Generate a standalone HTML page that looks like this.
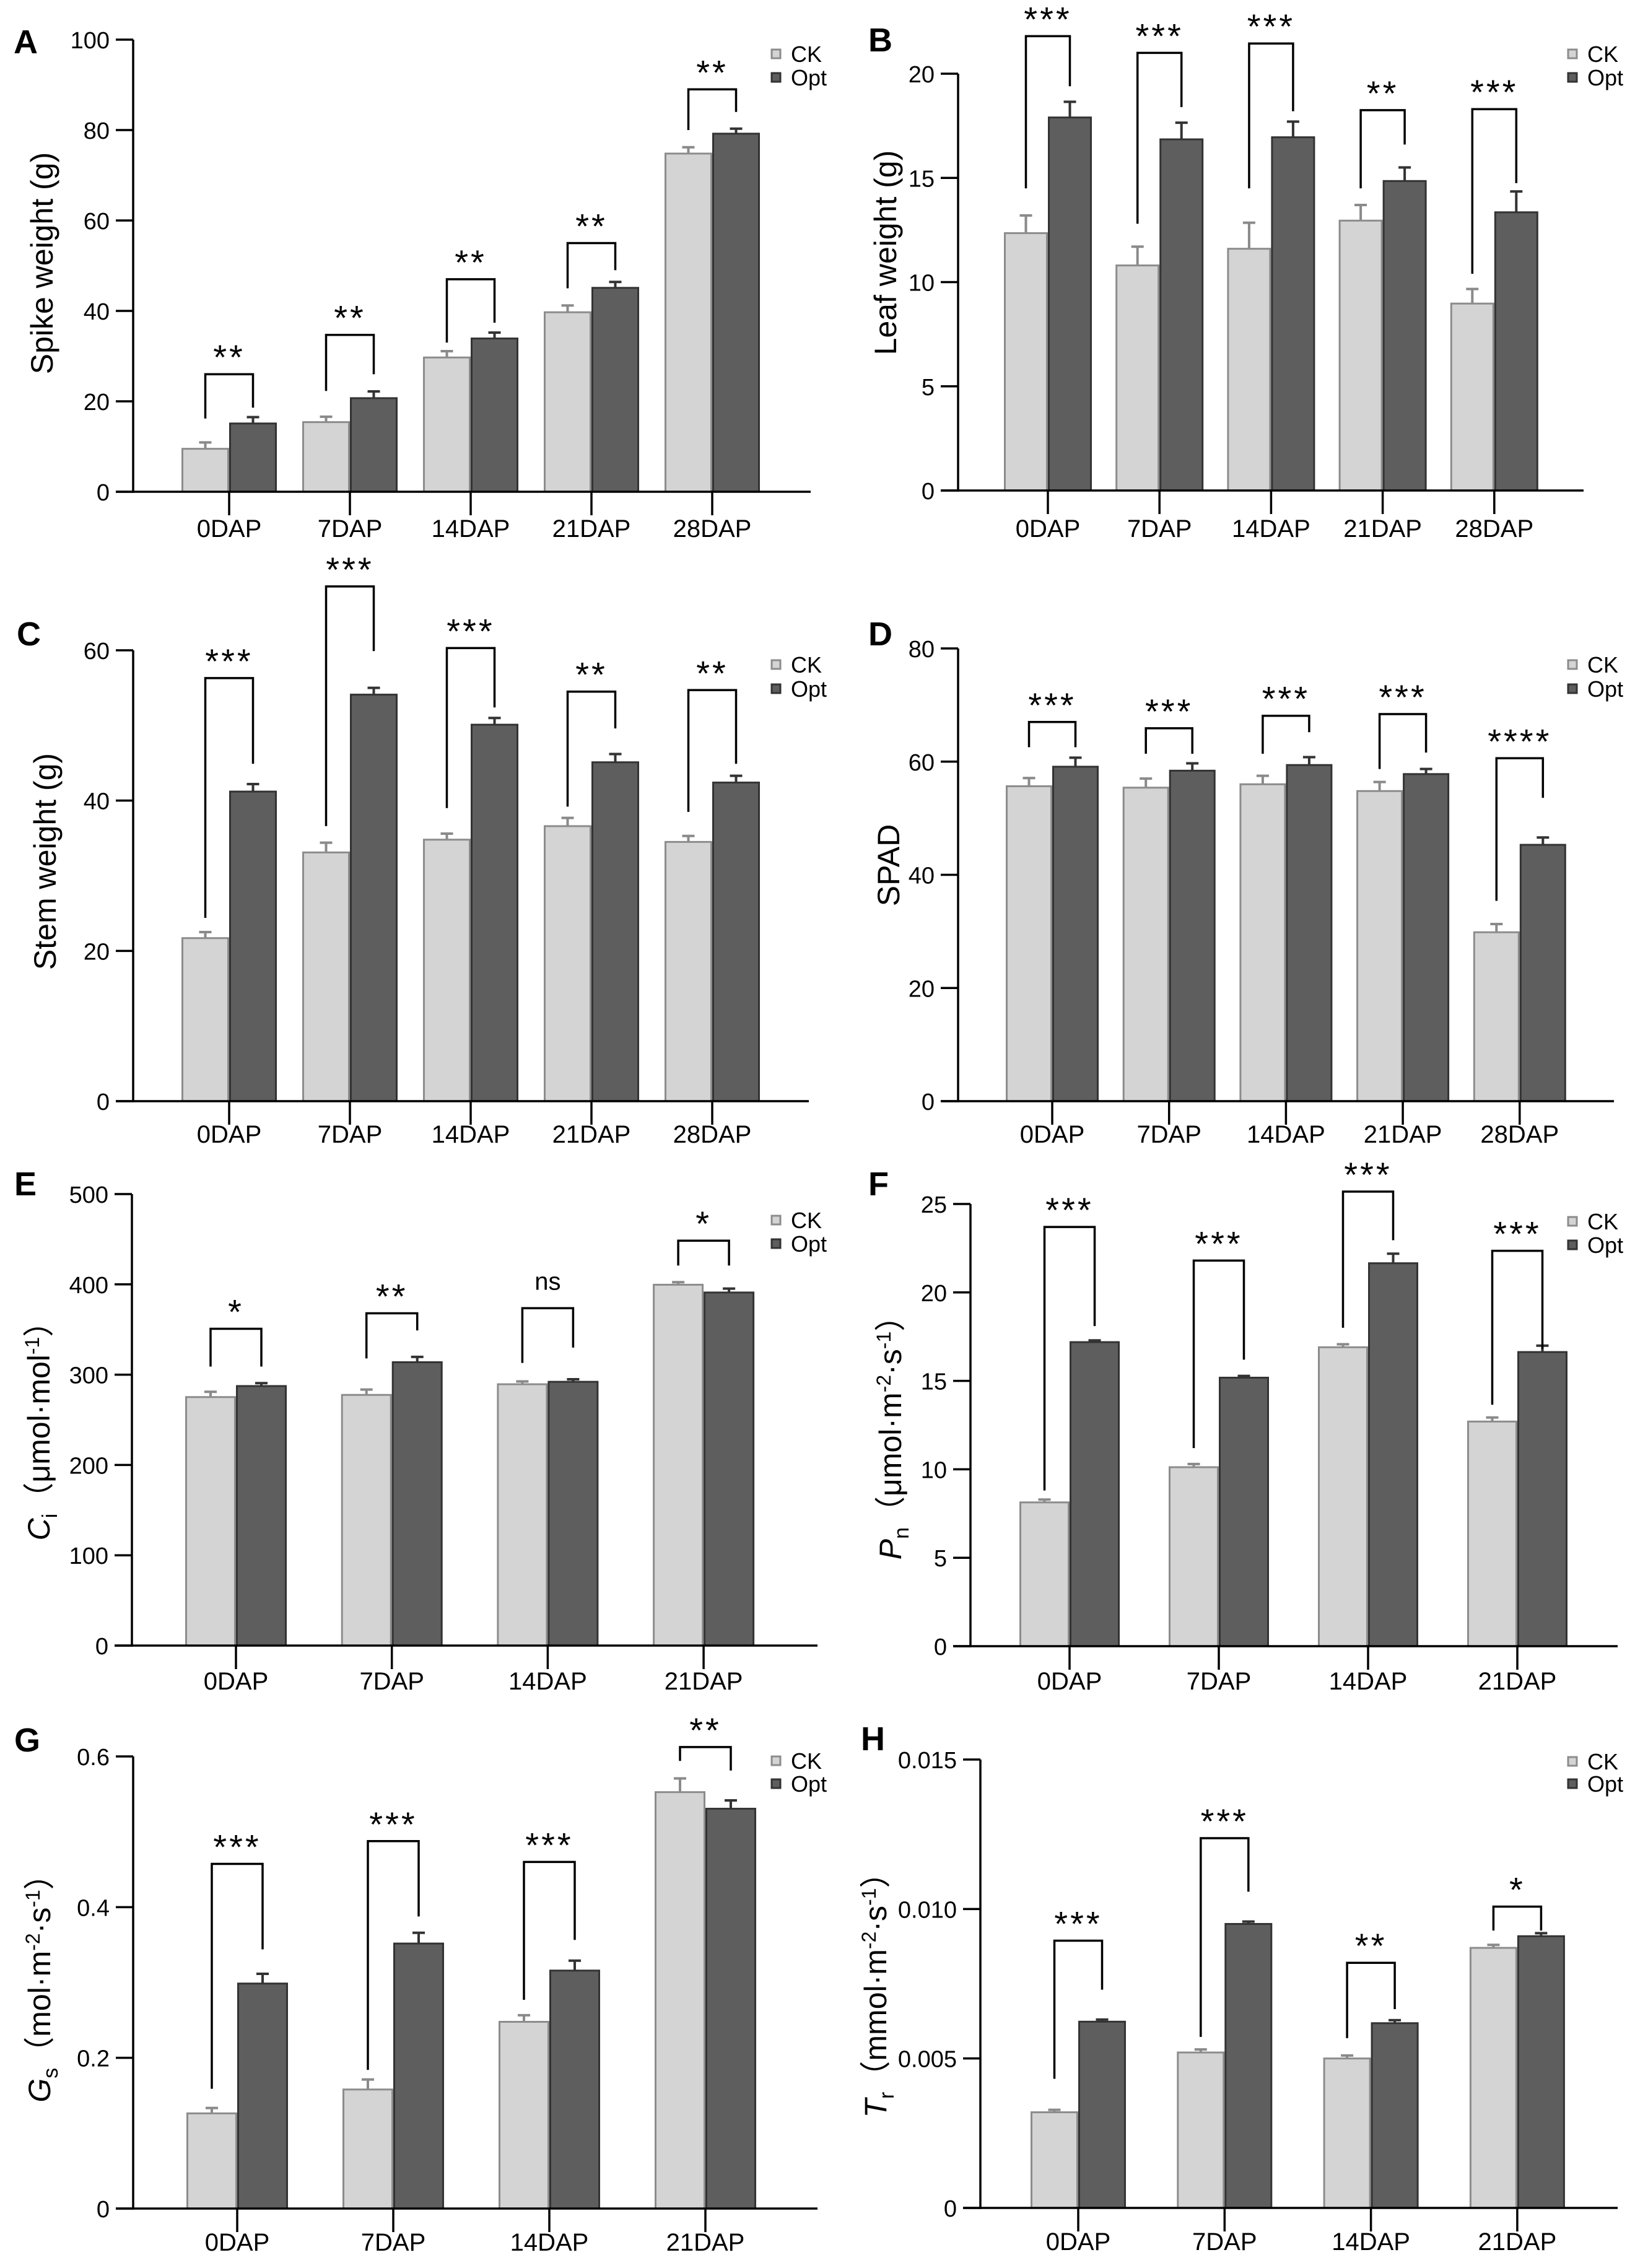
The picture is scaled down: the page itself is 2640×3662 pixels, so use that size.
<!DOCTYPE html>
<html><head><meta charset="utf-8"><style>
html,body{margin:0;padding:0;background:#fff;}
svg{display:block;font-family:"Liberation Sans",Arial,sans-serif;}
</style></head><body>
<svg id="fig" width="2640" height="3662" viewBox="0 0 2640 3662" xmlns="http://www.w3.org/2000/svg">
<rect width="2640" height="3662" fill="#fff"/>
</svg>
<script>
// ---- Data ----
const catsA = ["0DAP","7DAP","14DAP","21DAP","28DAP"];
const catsE = ["0DAP","7DAP","14DAP","21DAP"];

const A_ck = [9.5,15.4,29.7,39.7,74.8];
const A_ckErr = [1.4,1.2,1.4,1.5,1.4];
const A_opt = [15.1,20.7,33.9,45.1,79.2];
const A_optErr = [1.4,1.5,1.3,1.3,1.1];
const A_sig = ["**","**","**","**","**"];
const A_brTop = [26,34.7,47,55,89];
const A_brL = [16.2,22.3,33,45,80];
const A_brR = [18.6,26,37.4,49,84];
const A_ticks = [0,20,40,60,80,100];

const B_ck = [12.35,10.8,11.6,12.95,8.97];
const B_ckErr = [0.85,0.9,1.25,0.75,0.7];
const B_opt = [17.9,16.85,16.95,14.85,13.35];
const B_optErr = [0.75,0.8,0.75,0.65,1.0];
const B_sig = ["***","***","***","**","***"];
const B_brTop = [21.8,21.0,21.45,18.25,18.3];
const B_brL = [14.5,12.8,14.5,14.5,10.4];
const B_brR = [19.4,18.4,18.2,16.6,14.75];
const B_ticks = [0,5,10,15,20];

const C_ck = [21.7,33.1,34.8,36.6,34.5];
const C_ckErr = [0.8,1.3,0.8,1.1,0.8];
const C_opt = [41.2,54.1,50.1,45.1,42.4];
const C_optErr = [1.0,0.9,0.9,1.1,0.9];
const C_sig = ["***","***","***","**","**"];
const C_brTop = [56.3,68.5,60.3,54.5,54.7];
const C_brL = [24.4,36.6,39,39.2,38.5];
const C_brR = [44.9,59.9,52.4,49.6,44.9];
const C_ticks = [0,20,40,60];

const D_ck = [55.65,55.4,56.0,54.8,29.85];
const D_ckErr = [1.45,1.6,1.5,1.6,1.45];
const D_opt = [59.1,58.4,59.4,57.8,45.3];
const D_optErr = [1.6,1.3,1.4,0.9,1.3];
const D_sig = ["***","***","***","***","****"];
const D_brTop = [67,65.9,68.1,68.4,60.6];
const D_brL = [62.55,61.4,61.4,58.7,35.4];
const D_brR = [62.55,61.4,65.2,61.6,53.6];
const D_ticks = [0,20,40,60,80];

const E_ck = [275.2,277.6,289.4,399.6];
const E_ckErr = [5.8,5.9,3.1,2.8];
const E_opt = [287.4,313.8,292.1,391];
const E_optErr = [3.2,5.9,2.8,4.3];
const E_sig = ["*","**","ns","*"];
const E_brTop = [350.8,368,373.6,448.4];
const E_brL = [309,318,313,420.9];
const E_brR = [309,349,330,420.9];
const E_ticks = [0,100,200,300,400,500];

const F_ck = [8.13,10.12,16.9,12.7];
const F_ckErr = [0.16,0.18,0.17,0.23];
const F_opt = [17.19,15.18,21.65,16.63];
const F_optErr = [0.1,0.1,0.54,0.36];
const F_sig = ["***","***","***","***"];
const F_brTop = [23.7,21.8,25.7,22.35];
const F_brL = [8.8,11.2,18.0,13.65];
const F_brR = [18.1,16.2,22.95,16.8];
const F_ticks = [0,5,10,15,20,25];

const G_ck = [0.1263,0.158,0.2478,0.5526];
const G_ckErr = [0.0072,0.0133,0.0087,0.0182];
const G_opt = [0.2986,0.3517,0.3158,0.5306];
const G_optErr = [0.0129,0.0143,0.0132,0.011];
const G_sig = ["***","***","***","**"];
const G_brTop = [0.4574,0.4876,0.46,0.6124];
const G_brL = [0.1589,0.184,0.277,0.594];
const G_brR = [0.344,0.3876,0.3565,0.5813];
const G_ticks = [0,0.2,0.4,0.6];
const G_tickLabels = ["0","0.2","0.4","0.6"];

const H_ck = [0.0032,0.0052,0.0050,0.0087];
const H_ckErr = [0.00008,0.0001,0.0001,0.0001];
const H_opt = [0.00623,0.0095,0.00618,0.00909];
const H_optErr = [0.00007,0.00008,0.0001,0.0001];
const H_sig = ["***","***","**","*"];
const H_brTop = [0.00894,0.01237,0.0082,0.01008];
const H_brL = [0.00432,0.00572,0.00568,0.00928];
const H_brR = [0.0073,0.01058,0.00665,0.00928];
const H_ticks = [0,0.005,0.010,0.015];
const H_tickLabels = ["0","0.005","0.010","0.015"];

const NS = "http://www.w3.org/2000/svg";
const svg = document.getElementById('fig');
function mk(tag, attrs, parent){
  const e = document.createElementNS(NS, tag);
  for (const k in attrs) e.setAttribute(k, attrs[k]);
  (parent||svg).appendChild(e);
  return e;
}

function panel(P){
  const g = mk('g', {});
  
  
  const yScale = v => P.y0 - (v / P.max) * (P.y0 - P.yTop);
  const xScale = i => P.x0 + i * P.step;

  const L = mk('text', {x:P.lx, y:P.ly, 'font-size':54, 'font-weight':'bold', fill:'#000'}, g);
  L.textContent = P.id;
  
  

  P.cats.forEach((c, i) => {
    const cx = xScale(i);
    const w = P.bw;
    const ckY = yScale(P.ck[i]), opY = yScale(P.opt[i]);
    const eck = yScale(P.ck[i] + P.ckErr[i]);
    const e1 = mk('path', {d:`M${cx-w/2},${ckY} V${eck} M${cx-w/2-10},${eck} H${cx-w/2+10}`, stroke:'#8a8a8a', 'stroke-width':4, fill:'none'}, g);
    
    
    const eop = yScale(P.opt[i] + P.optErr[i]);
    const e2 = mk('path', {d:`M${cx+w/2},${opY} V${eop} M${cx+w/2-10},${eop} H${cx+w/2+10}`, stroke:'#333', 'stroke-width':4, fill:'none'}, g);
    
    
    const r1 = mk('rect', {x:cx-w+1.5, y:ckY, width:w-3, height:P.y0-ckY, fill:'#d4d4d4', stroke:'#8c8c8c', 'stroke-width':3}, g);
    
    
    const r2 = mk('rect', {x:cx+1.5, y:opY, width:w-3, height:P.y0-opY, fill:'#5e5e5e', stroke:'#333', 'stroke-width':3}, g);
    
    

    const bt = yScale(P.brTop[i]);
    const br = mk('path', {d:`M${cx-w/2},${yScale(P.brL[i])} V${bt} H${cx+w/2} V${yScale(P.brR[i])}`, stroke:'#000', 'stroke-width':3.5, fill:'none'}, g);
    
    
    const isNs = P.sig[i] === 'ns';
    const st = mk('text', {x:cx, y: isNs ? bt-30 : bt-8, 'text-anchor':'middle', 'font-size': isNs?40:56, 'letter-spacing': isNs?0:4, fill:'#000'}, g);
    st.textContent = P.sig[i];
    
    

    const tk = mk('line', {x1:cx, x2:cx, y1:P.y0, y2:P.y0+38, stroke:'#000', 'stroke-width':3.5}, g);
    
    
    const xl = mk('text', {x:cx, y:P.xly, 'text-anchor':'middle', 'font-size':40, fill:'#000'}, g);
    xl.textContent = c;
    
    
  });

  const ya = mk('line', {x1:P.ax, x2:P.ax, y1:P.yTop, y2:P.y0+1.75, stroke:'#000', 'stroke-width':3.5}, g);
  
  
  const xa = mk('line', {x1:P.ax-28, x2:P.xEnd, y1:P.y0, y2:P.y0, stroke:'#000', 'stroke-width':3.5}, g);
  
  
  P.ticks.forEach((t, k) => {
    const y = yScale(t);
    const tl = mk('line', {x1:P.ax-28, x2:P.ax, y1:y, y2:y, stroke:'#000', 'stroke-width':3.5}, g);
    
    
    const tx = mk('text', {x:P.ax-38, y:y+14, 'text-anchor':'end', 'font-size':38, fill:'#000'}, g);
    tx.textContent = P.tickLabels ? P.tickLabels[k] : String(t);
    
    
  });

  const yt = mk('text', {transform:`translate(${P.tx+18},${P.ty}) rotate(-90)`, 'text-anchor':'middle', 'font-size':50, fill:'#000'}, g);
  yt.innerHTML = P.title;
  
  

  const lg = mk('g', {}, g);
  
  
  [['CK','#d4d4d4','#8c8c8c',P.lgy[0]],['Opt','#5e5e5e','#333',P.lgy[1]]].forEach(d => {
    const sq = mk('rect', {x:P.lgx, y:d[3]-7, width:14, height:14, fill:d[1], stroke:d[2], 'stroke-width':3}, lg);
    
    
    const t = mk('text', {x:P.lgx+31, y:d[3]+13, 'font-size':36, fill:'#000'}, lg);
    t.textContent = d[0];
    
    
  });
}

const sup = s => `<tspan dy="-17" font-size="32">${s}</tspan>`;

panel({id:'A', cats:catsA, ck:A_ck, ckErr:A_ckErr, opt:A_opt, optErr:A_optErr, sig:A_sig, brTop:A_brTop, brL:A_brL, brR:A_brR, ticks:A_ticks,
  max:100, y0:794, yTop:64, ax:215, xEnd:1309, x0:370, step:195, bw:77, xly:867, lx:22, ly:86, tx:67, ty:425, lgx:1246, lgy:[87,125],
  title:'Spike weight (g)'});
panel({id:'B', cats:catsA, ck:B_ck, ckErr:B_ckErr, opt:B_opt, optErr:B_optErr, sig:B_sig, brTop:B_brTop, brL:B_brL, brR:B_brR, ticks:B_ticks,
  max:20, y0:792, yTop:119, ax:1547, xEnd:2557, x0:1692, step:180.2, bw:71, xly:867, lx:1402, ly:83, tx:1429, ty:408, lgx:2532, lgy:[87,125],
  title:'Leaf weight (g)'});
panel({id:'C', cats:catsA, ck:C_ck, ckErr:C_ckErr, opt:C_opt, optErr:C_optErr, sig:C_sig, brTop:C_brTop, brL:C_brL, brR:C_brR, ticks:C_ticks,
  max:60, y0:1778, yTop:1050, ax:215, xEnd:1306, x0:370, step:195, bw:77, xly:1845, lx:27, ly:1042, tx:72, ty:1391, lgx:1246, lgy:[1073,1112],
  title:'Stem weight (g)'});
panel({id:'D', cats:catsA, ck:D_ck, ckErr:D_ckErr, opt:D_opt, optErr:D_optErr, sig:D_sig, brTop:D_brTop, brL:D_brL, brR:D_brR, ticks:D_ticks,
  max:80, y0:1778, yTop:1047, ax:1547, xEnd:2606, x0:1699, step:188.7, bw:75, xly:1845, lx:1402, ly:1042, tx:1434, ty:1397, lgx:2532, lgy:[1073,1112],
  title:'SPAD'});
panel({id:'E', cats:catsE, ck:E_ck, ckErr:E_ckErr, opt:E_opt, optErr:E_optErr, sig:E_sig, brTop:E_brTop, brL:E_brL, brR:E_brR, ticks:E_ticks,
  max:500, y0:2657, yTop:1928, ax:213, xEnd:1320, x0:381, step:251.7, bw:82, xly:2728, lx:23, ly:1930, tx:62, ty:2298, lgx:1246, lgy:[1970,2008],
  title:'<tspan font-style="italic">C</tspan><tspan dy="12" font-size="34">i</tspan><tspan dy="-12">（μmol·mol</tspan>'+sup('-1')+'<tspan dy="17">）</tspan>'});
panel({id:'F', cats:catsE, ck:F_ck, ckErr:F_ckErr, opt:F_opt, optErr:F_optErr, sig:F_sig, brTop:F_brTop, brL:F_brL, brR:F_brR, ticks:F_ticks,
  max:25, y0:2658, yTop:1944, ax:1567, xEnd:2612, x0:1727, step:241, bw:81, xly:2728, lx:1402, ly:1930, tx:1437, ty:2309, lgx:2532, lgy:[1972,2010],
  title:'<tspan font-style="italic">P</tspan><tspan dy="12" font-size="34">n</tspan><tspan dy="-12">（μmol·m</tspan>'+sup('-2')+'<tspan dy="17">·s</tspan>'+sup('-1')+'<tspan dy="17">）</tspan>'});
panel({id:'G', cats:catsE, ck:G_ck, ckErr:G_ckErr, opt:G_opt, optErr:G_optErr, sig:G_sig, brTop:G_brTop, brL:G_brL, brR:G_brR, ticks:G_ticks, tickLabels:G_tickLabels,
  max:0.6, y0:3566, yTop:2836, ax:215, xEnd:1320, x0:383, step:252, bw:82, xly:3634, lx:23, ly:2828, tx:63, ty:3198, lgx:1246, lgy:[2843,2880],
  title:'<tspan font-style="italic">G</tspan><tspan dy="12" font-size="34">s</tspan><tspan dy="-12">（mol·m</tspan>'+sup('-2')+'<tspan dy="17">·s</tspan>'+sup('-1')+'<tspan dy="17">）</tspan>'});
panel({id:'H', cats:catsE, ck:H_ck, ckErr:H_ckErr, opt:H_opt, optErr:H_optErr, sig:H_sig, brTop:H_brTop, brL:H_brL, brR:H_brR, ticks:H_ticks, tickLabels:H_tickLabels,
  max:0.015, y0:3565, yTop:2841, ax:1583, xEnd:2612, x0:1741, step:236.3, bw:77, xly:3633, lx:1390, ly:2826, tx:1413, ty:3209, lgx:2532, lgy:[2844,2880],
  title:'<tspan font-style="italic">T</tspan><tspan dy="12" font-size="34">r</tspan><tspan dy="-12">（mmol·m</tspan>'+sup('-2')+'<tspan dy="17">·s</tspan>'+sup('-1')+'<tspan dy="17">）</tspan>'});
</script>
</body></html>
